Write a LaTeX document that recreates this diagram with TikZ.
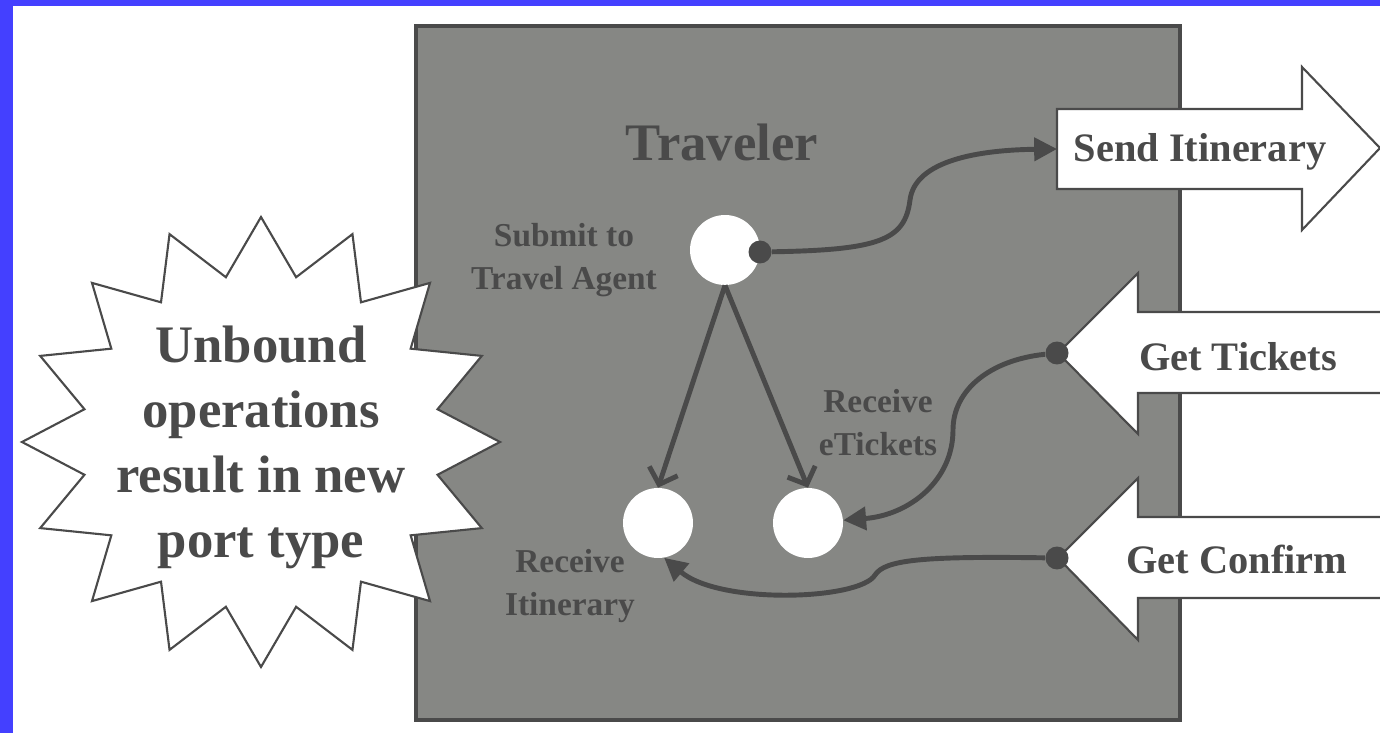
\documentclass[tikz,border=0pt]{standalone}
\usepackage{fontspec}
\setmainfont{Liberation Serif}
\usetikzlibrary{arrows.meta}
\definecolor{ink}{RGB}{74,74,74}
\definecolor{boxgray}{RGB}{134,135,132}
\definecolor{frameblue}{RGB}{68,64,255}

\begin{document}
\begin{tikzpicture}[x=0.02cm,y=-0.02cm,
  opcircle/.style={circle,fill=white,minimum size=1.4cm,inner sep=0},
  portdot/.style={circle,fill=ink,minimum size=0.46cm,inner sep=0},
  oplabel/.style={align=center,font=\fontsize{19}{24.5}\selectfont\bfseries,text=ink},
  portshape/.style={draw=ink,line width=1.2pt,fill=white},
  portlabel/.style={font=\fontsize{23}{28}\selectfont\bfseries,text=ink},
  flow/.style={draw=ink,line width=2.8pt,-{Triangle[length=13pt,width=13pt]}},
  split/.style={draw=ink,line width=2.8pt,-{Straight Barb[length=8pt,width=17pt]}}]
  \useasboundingbox (0,0) rectangle (1380,733);
  \clip (0,0) rectangle (1380,733);
  \fill[frameblue] (0,0) rectangle (1380,733);
  \fill[white] (13,6) rectangle (1380,733);
  % process box
  \draw[fill=boxgray,draw=ink,line width=1.8pt] (416,26) rectangle (1180,720);
  % callout
  \draw[portshape] (500,442) \foreach \k in {1,...,31} {-- ({261+(isodd(\k)?180:239)*cos(\k*11.25)},{442-(isodd(\k)?168:225)*sin(\k*11.25)})} -- cycle;
  \node[align=center,font=\fontsize{30}{37}\selectfont\bfseries,text=ink] (note) at (261,447) {Unbound\\operations\\result in new\\port type};
  % port arrows
  \draw[portshape] (1057,109) -- (1302,109) -- (1302,67) -- (1380,148) -- (1302,230) -- (1302,189) -- (1057,189) -- cycle;
  \draw[portshape] (1400,312) -- (1138,312) -- (1138,273) -- (1058,353) -- (1138,434) -- (1138,393) -- (1400,393);
  \draw[portshape] (1400,517) -- (1138,517) -- (1138,478) -- (1058,558) -- (1138,640) -- (1138,598) -- (1400,598);
  \node[portlabel] (sendport) at (1200,152) {Send Itinerary};
  \node[portlabel] (tixport) at (1238,357) {Get Tickets};
  \node[portlabel] (confport) at (1237,559) {Get Confirm};
  \coordinate (sendin) at (1057,149);
  % operations
  \node[font=\fontsize{30}{36}\selectfont\bfseries,text=ink] (title) at (722,142) {Traveler};
  \node[opcircle] (submit) at (725,250) {};
  \node[opcircle] (recvitin) at (658,523) {};
  \node[opcircle] (recvtix) at (808,523) {};
  \node[portdot] (subdot) at (760,252) {};
  \node[portdot] (tixdot) at (1057,353) {};
  \node[portdot] (confdot) at (1057,558) {};
  \node[oplabel] (submitlbl) at (564,260) {Submit to\\Travel Agent};
  \node[oplabel] (tixlbl) at (878,423) {Receive\\eTickets};
  \node[oplabel] (itinlbl) at (570,586) {Receive\\Itinerary};
  \draw[split] (submit.south) -- (recvitin.north);
  \draw[split] (submit.south) -- (recvtix.north);
  \draw[flow] (subdot) .. controls (880,250) and (905,240) .. (910,200) .. controls (915,160) and (980,150) .. (sendin);
  \draw[flow] (tixdot) .. controls (990,360) and (953,390) .. (953,430) .. controls (953,480) and (910,515) .. (recvtix);
  \draw[flow] (confdot) .. controls (920,556) and (885,560) .. (875,575) .. controls (860,600) and (720,605) .. (recvitin.-80);
\end{tikzpicture}
\end{document}
